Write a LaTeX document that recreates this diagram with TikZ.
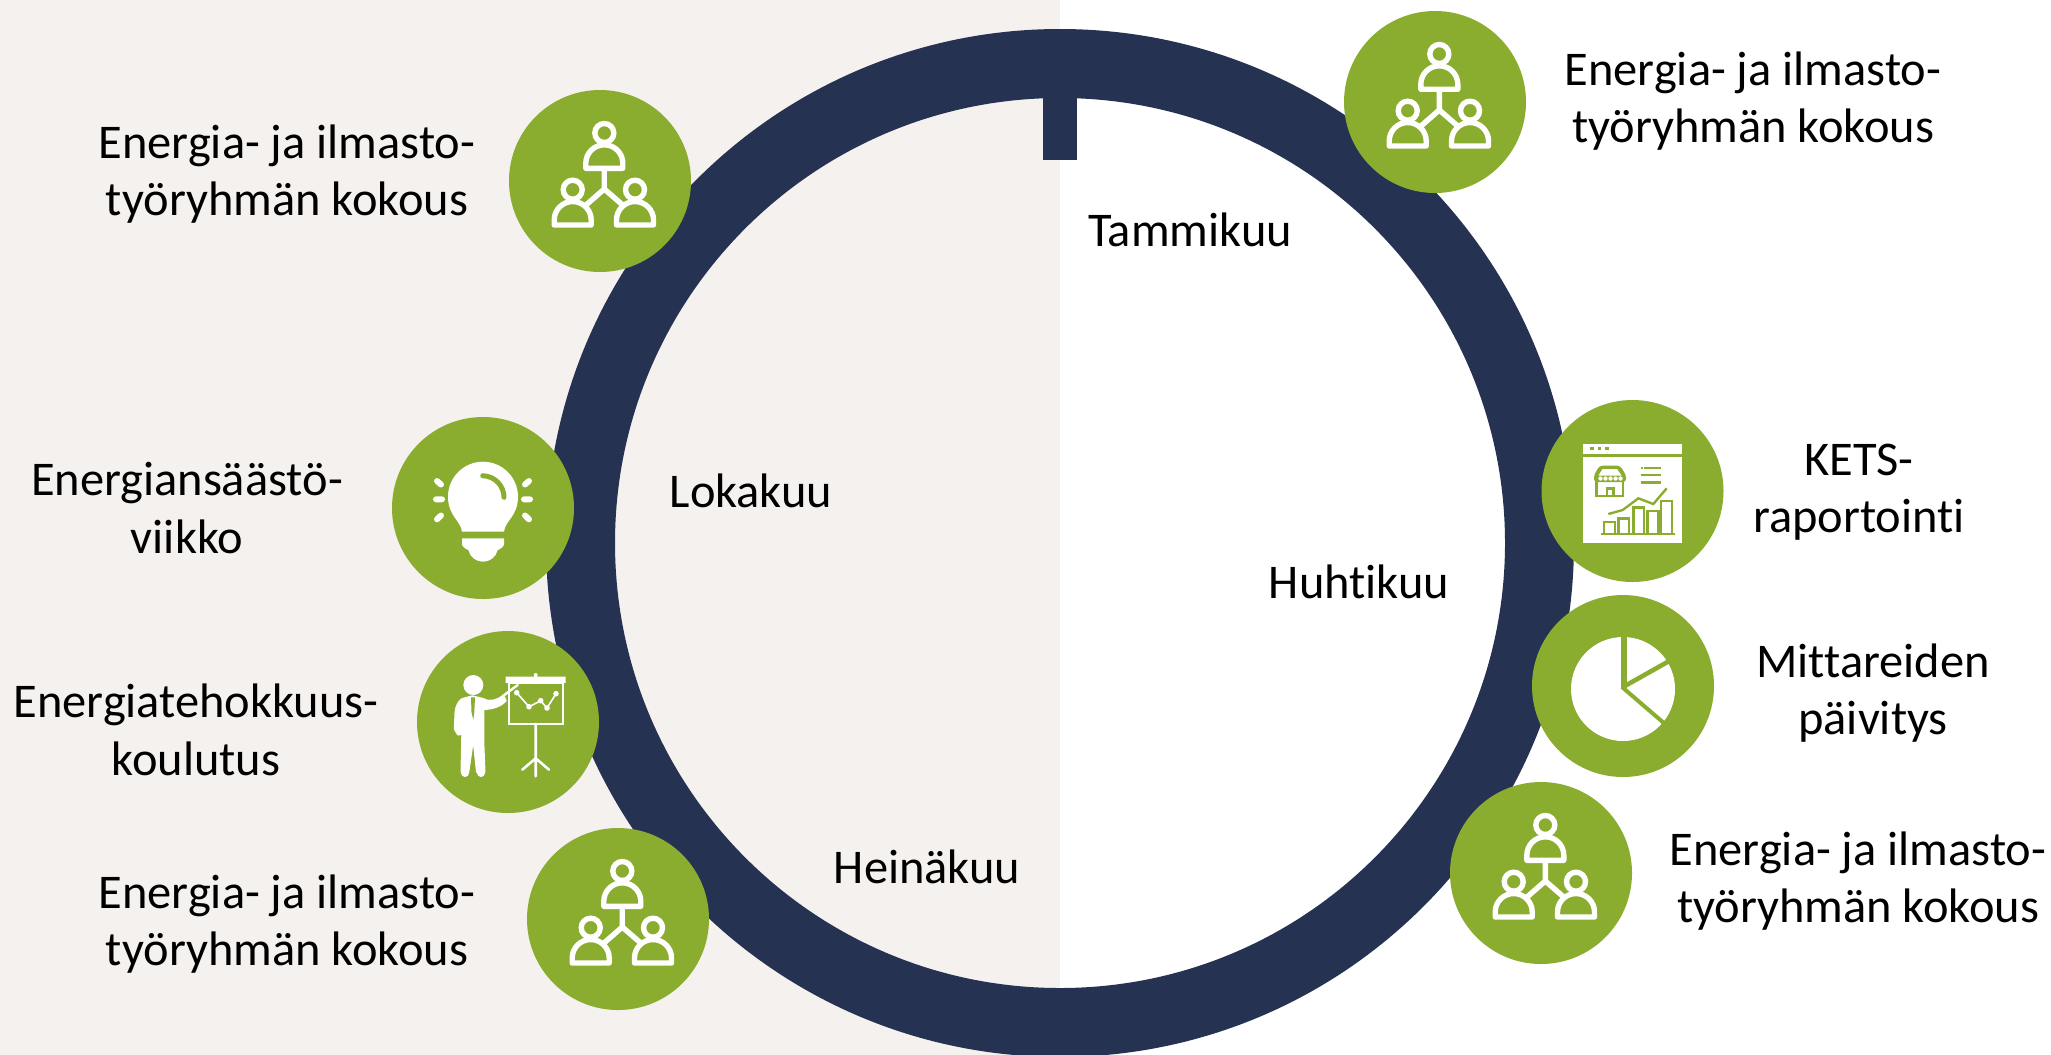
\documentclass[tikz,border=0pt]{standalone}
\usepackage{fontspec}
\setmainfont[Ligatures=NoCommon]{Carlito}
\definecolor{ringblue}{HTML}{263252}
\definecolor{leafgreen}{HTML}{8AAD2F}
\definecolor{paper}{HTML}{F4F1EE}
\tikzset{
	badge/.style = {circle, fill = leafgreen, minimum size = 91bp, inner sep = 0pt},
	caption/.style = {align = center, font = \fontsize{24.3}{28.9}\selectfont, inner sep = 0pt},
	month/.style = {font = \fontsize{24.3}{28.9}\selectfont, inner sep = 0pt},
	person/.pic = {
		\draw [white, line width = 2.7pt] (0,-35.3) circle (9.5);
		\draw [white, line width = 2.7pt, line join = round] (-18.5,0) -- (-18.5,-5) arc (180:360:18.5) -- (18.5,0) -- cycle;
	},
	meeting/.pic = {
		\path (4.3,-12.7) pic {person} (-27.3,44) pic {person} (35,44) pic {person};
		\draw [white, line width = 2.7pt] (4.3,-11) -- (4.3,10.7) (-14,24) -- (4.3,8) -- (22.7,24);
	},
	bulb/.pic = {
		\fill [white] (-21,23.7) .. controls (-22,13) and (-35,8) .. (-35,-11.3) arc (180:360:35)
			.. controls (35,8) and (22,13) .. (21,23.7) -- cycle;
		\fill [white] (-21,30.3) -- (21,30.3) -- (21,36) .. controls (21,39) and (17,41) .. (14.7,42)
			.. controls (13,49) and (7,53.7) .. (0,53.7) .. controls (-7,53.7) and (-13,49) .. (-14.7,42)
			.. controls (-17,41) and (-21,39) .. (-21,36) -- cycle;
		\draw [leafgreen, line width = 2.5pt, line cap = round] (-0.3,-32.3) .. controls (12,-32) and (21,-22) .. (21,-10.7);
		\foreach \s in {-1,1} {
			\draw [white, line width = 3pt, line cap = round]
				(\s*46,-27) -- (\s*42,-23.5) (\s*47,-8.7) -- (\s*41,-8.7) (\s*46,11.3) -- (\s*42,7.5);
		}
	},
	teacher/.pic = {
		\fill [white] (-34.7,-37) circle (10);
		\filldraw [white, line width = 1pt, line join = round] (-35.7,-25.7) -- (-24.7,-23)
			.. controls (-18,-19) and (-10,-22) .. (-4.7,-26.3) -- (-2.3,-21.3)
			.. controls (-8,-15) and (-18,-13) .. (-24.7,-13) -- (-24.7,20.3) -- (-23.5,50) -- (-31,50) -- (-34.7,15.3)
			-- (-39.7,50) -- (-46.5,50) -- (-45.7,12) -- (-50,12.5) -- (-53.2,7) -- (-52.5,-9.7)
			.. controls (-52,-17) and (-48,-22) .. (-45.7,-23) -- cycle;
		\fill [white] (-27,51) circle (4) (-43,51) circle (4);
		\fill [leafgreen] (-37,-24.7) -- (-33,-24.7) -- (-33.7,-9.7) -- (-34.7,-2.3) -- (-36.5,-9.7) -- cycle;
		\draw [white, line width = 1.2pt, line cap = round] (-4.7,-26.3) -- (9.7,-37);
		\fill [white] (-2.3,-45.3) rectangle (57.7,-39) (27.7,-47) circle (2);
		\draw [white, line width = 1.1pt] (1,-39) rectangle (55,2);
		\draw [white, line width = 1.3pt, line cap = round] (27.7,2) -- (27.7,54.3)
			(14.3,47.7) -- (27.7,36.3) -- (41,47.7);
		\draw [white, line width = .8pt] (8.7,-29.3) -- (21,-15.3) -- (32.7,-21.3) -- (39,-14) -- (48,-28.3);
		\foreach \p in {(8.7,-29.3),(21,-15.3),(32.7,-21.3),(39,-14),(48,-28.3)}
			\fill [white] \p circle (2.8);
	},
	report/.pic = {
		\fill [white] (-49.2,-47) rectangle (49.7,51.7);
		\draw [leafgreen, line width = 1.8pt] (-49.2,-35.5) -- (49.7,-35.5);
		\foreach \x in {-40.5,-33.2,-25.8}
			\fill [leafgreen] (\x-1.8,-44) rectangle (\x+1.8,-41);
		% shop
		\fill [leafgreen, rounded corners = 1.5pt] (-33,-25.3) -- (-12.5,-25.3) -- (-6.5,-16) -- (-6.5,-9) -- (-38.5,-9) -- (-38.5,-16) -- cycle;
		\fill [white] (-30,-22) -- (-15.5,-22) -- (-11,-15.5) -- (-34,-15.5) -- cycle;
		\foreach \x in {-32,-27,-22,-17,-12}
			\fill [white] (\x,-12.5) circle (2.2);
		\draw [leafgreen, line width = 1.2pt] (-36,-10) -- (-36,5) -- (-9.5,5) -- (-9.5,-10);
		\fill [leafgreen] (-27,-4) rectangle (-18,5);
		\fill [white] (-24.5,-1) rectangle (-20.5,4);
		% list
		\draw [leafgreen, line width = 1.2pt] (8.2,-23.3) -- (10,-23.3) (11.5,-23.3) -- (28.2,-23.3)
			(8.2,-16) -- (28.2,-16) (8.2,-8.7) -- (28.2,-8.7);
		% chart
		\draw [leafgreen, line width = 1.2pt] (-24.2,23) -- (-9.8,19) -- (5.8,7.3) -- (20.8,13) -- (34.2,-2.7);
		\draw [leafgreen, line width = 1.3pt] (-31.8,43) -- (42.8,43);
		\foreach \a/\b/\t in {-28.5/-17.8/30.7,-14.2/-3.8/27.3,0.8/11.5/16.3,14.8/25.8/19.7,28.2/39.2/9.7}
			\draw [leafgreen, line width = 1.2pt] (\a,43) -- (\a,\t) -- (\b,\t) -- (\b,43);
	},
	meter/.pic = {
		\fill [white] (0,3) circle (52);
		\draw [leafgreen, line width = 3pt] (0.7,-50) -- (0.7,1.5);
		\draw [leafgreen, line width = 2.3pt] (0,1) -- (48,-26);
		\draw [leafgreen, line width = 2pt] (-1,1) -- (42,38);
	}
}
\begin{document}
\begin{tikzpicture}[x = 0.5bp, y = -0.5bp]

	\useasboundingbox (0,0) rectangle (2051,1054);
	\fill [paper] (0,0) rectangle (1060,1060);

	\draw [ringblue, line width = 34.5bp] (1060,543) circle (479.5);
	\fill [ringblue] (1043,60) rectangle (1077,160);

	\node [month] (tammikuu) at (1190,230) {Tammikuu};
	\node [month] (huhtikuu) at (1359,582) {Huhtikuu};
	\node [month] (heinakuu) at (927,867) {Heinäkuu};
	\node [month] (lokakuu) at (751,491) {Lokakuu};

	\node [badge] (meetA) at (1435,102) {};
	\node [badge] (kets) at (1632.5,491) {};
	\node [badge] (meters) at (1623,686) {};
	\node [badge] (meetB) at (1541,873) {};
	\node [badge] (meetC) at (618,919) {};
	\node [badge] (training) at (508,722) {};
	\node [badge] (week) at (483,508) {};
	\node [badge] (meetD) at (600,181) {};

	\path (meetA) pic {meeting} (meetB) pic {meeting} (meetC) pic {meeting} (meetD) pic {meeting};
	\path (kets) pic {report} (meters) pic {meter} (training) pic {teacher} (week) pic {bulb};

	\node [caption] (textA) at (1753,101) {Energia- ja ilmasto-\\työryhmän kokous};
	\node [caption] (textKets) at (1859,492) {KETS-\\raportointi};
	\node [caption] (textMeters) at (1873,693) {Mittareiden\\päivitys};
	\node [caption] (textB) at (1858,881) {Energia- ja ilmasto-\\työryhmän kokous};
	\node [caption] (textC) at (287,924) {Energia- ja ilmasto-\\työryhmän kokous};
	\node [caption] (textTraining) at (196,730) {Energiatehokkuus-\\koulutus};
	\node [caption] (textWeek) at (187,508) {Energiansäästö-\\viikko};
	\node [caption] (textD) at (287,174) {Energia- ja ilmasto-\\työryhmän kokous};

\end{tikzpicture}
\end{document}
